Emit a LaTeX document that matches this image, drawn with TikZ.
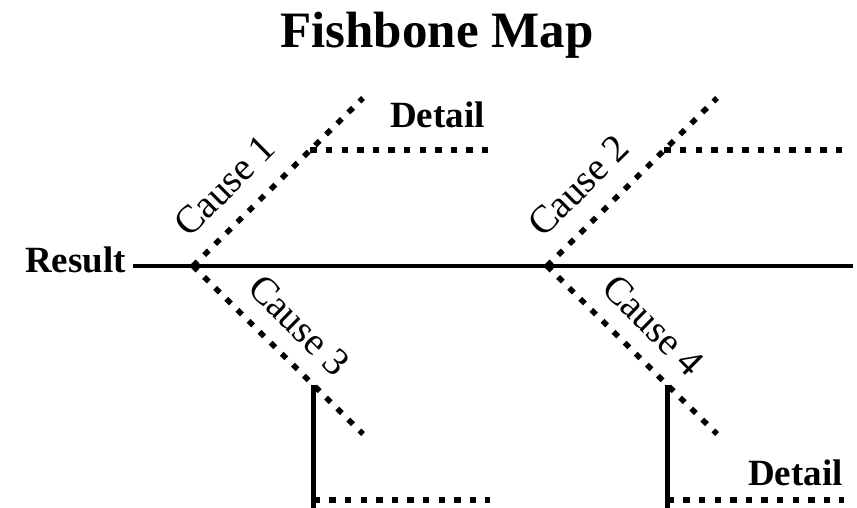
\documentclass[tikz,border=0pt]{standalone}
\usepackage{fontspec}
\setmainfont{Liberation Serif}
\usetikzlibrary{positioning,calc}

\begin{document}
\begin{tikzpicture}[x=1pt,y=-1pt,
        spine/.style={line width=4pt},
        bone/.style={line width=5.5pt, dash pattern=on 6.5pt off 9.1pt},
        stem/.style={line width=4.5pt},
        causetext/.style={font=\fontsize{39}{40}\selectfont, inner sep=0pt},
        boldtext/.style={font=\bfseries\fontsize{37}{40}\selectfont, inner sep=0pt}]
            \useasboundingbox (0,0) rectangle (857,507);
            \clip (0,0) rectangle (857,507);
            % Title on top
            \node[font=\bfseries\fontsize{51}{56}\selectfont, anchor=base] (Title) at (437,47) {Fishbone Map};

            % Result on the left and the spine
            \node[boldtext, anchor=base east] (Result) at (126,272) {Result};
            \coordinate (Head) at (853,266);
            \coordinate (Bottom) at (0,512);
            \draw[spine] ([xshift=7pt]Result.base east |- Head) -- (Head);

            % Draw the bones, one pair for each junction on the spine
            \foreach \jx/\up/\dn [count=\i] in {193/1/3, 547/2/4} {
                    \coordinate (J\i) at (\jx, 266);
                    \coordinate (U\i) at (\jx+170, 98);
                    \coordinate (L\i) at (\jx+170, 434);
                    \draw[bone] (J\i) -- (U\i) node[causetext, sloped, pos=0.33, above=19pt] (Cause\up) {Cause \up};
                    \draw[bone] (J\i) -- (L\i) node[causetext, sloped, pos=0.49, above=17pt] (Cause\dn) {Cause \dn};
                    % detail branch above
                    \coordinate (UD\i) at ($(J\i)!0.69!(U\i)$);
                    \coordinate (UE\i) at (\jx+297, 149);
                    \draw[bone] (UD\i) -- (UD\i -| UE\i);
                    % detail branch below
                    \coordinate (LD\i) at ($(J\i)!0.71!(L\i)$);
                    \coordinate (LE\i) at (\jx+297, 500);
                    \draw[stem] (LD\i) -- (LD\i |- Bottom);
                    \draw[bone] (LD\i |- LE\i) -- (LE\i);
                }

            % Detail labels
            \node[boldtext, anchor=base west] (Detail1) at (390,127) {Detail};
            \node[boldtext, anchor=base west] (Detail2) at (748,485) {Detail};
        \end{tikzpicture}
\end{document}
